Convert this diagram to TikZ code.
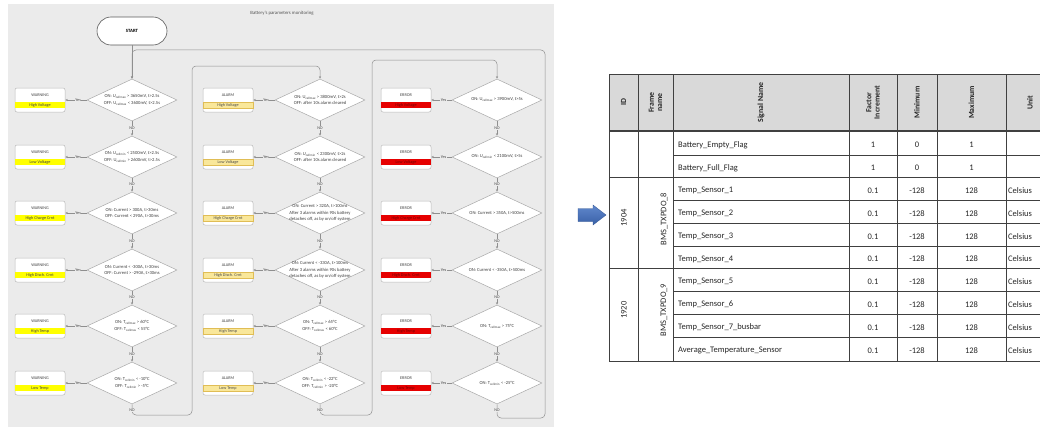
\documentclass[tikz,border=0pt]{standalone}
\usepackage{fontspec}
\setmainfont{Carlito}
\usetikzlibrary{shapes.geometric,calc,arrows.meta}

\definecolor{panel}{HTML}{EBEBEB}
\definecolor{edge}{HTML}{A8A8A8}
\definecolor{warnY}{HTML}{FFFF00}
\definecolor{alarmY}{HTML}{F9E79A}
\definecolor{alarmEdge}{HTML}{E0BD55}
\definecolor{errR}{HTML}{E60000}
\definecolor{hdr}{HTML}{D9D9D9}
\definecolor{rule}{HTML}{404040}
\definecolor{arrowblue}{HTML}{4472C4}

\tikzset{
  tinyfont/.style={font=\fontsize{4.2}{4.8}\selectfont},
  dia/.style={diamond, draw=edge, fill=white, line width=0.5pt, aspect=2.14,
    minimum width=90, minimum height=42, inner sep=0pt},
  diatxt/.style={align=center, inner sep=0pt, text=black!75,
    font=\fontsize{4.6}{6.2}\selectfont},
  startbox/.style={rectangle, rounded corners=14pt, draw=gray!70!black, fill=white,
    line width=0.6pt, minimum width=70, minimum height=28,
    font=\bfseries\fontsize{4.8}{5}\selectfont},
  lbox/.style={rectangle, rounded corners=2pt, draw=gray!55, fill=white,
    line width=0.5pt, minimum width=50, minimum height=24, inner sep=0pt},
  ltitle/.style={inner sep=0pt, tinyfont, text=black!75},
  warnband/.style={rectangle, fill=warnY, minimum width=50, minimum height=6,
    inner sep=0pt, tinyfont, text=black!75},
  alarmband/.style={rectangle, fill=alarmY, draw=alarmEdge, line width=0.4pt,
    minimum width=50, minimum height=6, inner sep=0pt, tinyfont, text=black!70},
  errband/.style={rectangle, fill=errR, minimum width=50, minimum height=6,
    inner sep=0pt, tinyfont, text=red!45!black},
  flow/.style={draw=edge!85!black, line width=0.5pt,
    -{Stealth[length=2.6pt,width=2.2pt]}},
  yeslab/.style={fill=panel, inner sep=0.6pt, tinyfont, text=black!70},
  nolab/.style={fill=panel, inner sep=0.6pt, tinyfont, text=black!70},
  hdrtxt/.style={rotate=90, font=\bfseries\fontsize{7.8}{8.4}\selectfont, text=black!85},
  celltxt/.style={font=\fontsize{8.5}{9}\selectfont, text=black!85, inner sep=0pt},
  sigtxt/.style={celltxt, anchor=west},
  grouptxt/.style={rotate=90, font=\fontsize{8.5}{9}\selectfont, text=black!85, inner sep=0pt},
  gridline/.style={draw=rule, line width=0.6pt},
}

% decision diamond with its condition text: name, x, y, text
\newcommand\decision[4]{%
  \node[dia] (#1) at (#2,#3) {};
  \node[diatxt] (#1x) at (#1.center) {#4};
}
% label box: name, x, y, level word, description, band style
\newcommand\lvlbox[6]{%
  \node[lbox] (#1) at (#2,#3) {};
  \node[ltitle] (#1t) at ($(#1.center)+(0,-4.5)$) {#4};
  \node[#6] (#1b) at ($(#1.center)+(0,5)$) {#5};
}

\begin{document}
\begin{tikzpicture}[x=1pt,y=-1pt]
\useasboundingbox (0,0) rectangle (1040,428);
\fill[white] (0,0) rectangle (1040,428);

% ---------- flowchart panel ----------
\fill[panel] (8,4) rectangle (554,427);
\node[font=\fontsize{4.8}{5}\selectfont, text=gray!65!black] (title) at (282,13)
  {Battery's parameters monitoring};
\node[startbox] (start) at (132,31) {START};

% column 1: warnings
\decision{d11}{132}{100}{ON: U\textsubscript{cellmax} > 3650mV, t>2.5s\\OFF: U\textsubscript{cellmax} < 3600mV, t>2.5s}
\decision{d12}{132}{157}{ON: U\textsubscript{cellmin} < 2500mV, t>2.5s\\OFF: U\textsubscript{cellmin} > 2600mV, t>2.5s}
\decision{d13}{132}{213}{ON: Current > 300A, t>30ms\\OFF: Current < 290A, t>30ms}
\decision{d14}{132}{270}{ON: Current < -300A, t>30ms\\OFF: Current > -290A, t>30ms}
\decision{d15}{132}{326}{ON: T\textsubscript{cellmax} > 60°C\\OFF: T\textsubscript{cellmax} < 55°C}
\decision{d16}{132}{383}{ON: T\textsubscript{cellmin} < -10°C\\OFF: T\textsubscript{cellmin} > -5°C}
\lvlbox{b11}{40}{100}{WARNING}{High Voltage}{warnband}
\lvlbox{b12}{40}{157}{WARNING}{Low Voltage}{warnband}
\lvlbox{b13}{40}{213}{WARNING}{High Charge Crnt}{warnband}
\lvlbox{b14}{40}{270}{WARNING}{High Disch. Crnt}{warnband}
\lvlbox{b15}{40}{326}{WARNING}{High Temp}{warnband}
\lvlbox{b16}{40}{383}{WARNING}{Low Temp}{warnband}

% column 2: alarms
\decision{d21}{320}{100}{ON: U\textsubscript{cellmax} > 3800mV, t>2s\\OFF: after 10s alarm cleared}
\decision{d22}{320}{157}{ON: U\textsubscript{cellmin} < 2300mV, t>2s\\OFF: after 10s alarm cleared}
\decision{d23}{320}{213}{ON: Current > 320A, t>100ms\\After 3 alarms within 90s battery\\detaches off, as by on/off system}
\decision{d24}{320}{270}{ON: Current < -330A, t>100ms\\After 3 alarms within 90s battery\\detaches off, as by on/off system}
\decision{d25}{320}{326}{ON: T\textsubscript{cellmax} > 65°C\\OFF: T\textsubscript{cellmax} < 60°C}
\decision{d26}{320}{383}{ON: T\textsubscript{cellmin} < -22°C\\OFF: T\textsubscript{cellmin} > -20°C}
\lvlbox{b21}{228}{100}{ALARM}{High Voltage}{alarmband}
\lvlbox{b22}{228}{157}{ALARM}{Low Voltage}{alarmband}
\lvlbox{b23}{228}{213}{ALARM}{High Charge Crnt}{alarmband}
\lvlbox{b24}{228}{270}{ALARM}{High Disch. Crnt}{alarmband}
\lvlbox{b25}{228}{326}{ALARM}{High Temp}{alarmband}
\lvlbox{b26}{228}{383}{ALARM}{Low Temp}{alarmband}

% column 3: errors
\decision{d31}{497}{100}{ON: U\textsubscript{cellmax} > 3900mV, t>5s}
\decision{d32}{497}{157}{ON: U\textsubscript{cellmin} < 2100mV, t>5s}
\decision{d33}{497}{213}{ON: Current > 350A, t>500ms}
\decision{d34}{497}{270}{ON: Current < -350A, t>500ms}
\decision{d35}{497}{326}{ON: T\textsubscript{cellmax} > 75°C}
\decision{d36}{497}{383}{ON: T\textsubscript{cellmin} < -25°C}
\lvlbox{b31}{406}{100}{ERROR}{High Voltage}{errband}
\lvlbox{b32}{406}{157}{ERROR}{Low Voltage}{errband}
\lvlbox{b33}{406}{213}{ERROR}{High Charge Crnt}{errband}
\lvlbox{b34}{406}{270}{ERROR}{High Disch. Crnt}{errband}
\lvlbox{b35}{406}{326}{ERROR}{High Temp}{errband}
\lvlbox{b36}{406}{383}{ERROR}{Low Temp}{errband}

% yes branches and no chains
\foreach \c in {1,2,3}{
  \foreach \r in {1,...,6}{
    \draw[flow] (d\c\r.west) -- (b\c\r.east) node[yeslab, pos=0.4] (y\c\r) {Yes};
  }
  \foreach \r/\n in {1/2,2/3,3/4,4/5,5/6}{
    \draw[flow] (d\c\r.south) -- (d\c\n.north) node[nolab, pos=0.45] (n\c\r) {NO};
  }
}

% loop-back routing between columns
\coordinate (k1a) at (192,415);
\coordinate (k1b) at (192,66);
\coordinate (k2a) at (372,415);
\coordinate (k2b) at (372,60);
\coordinate (k3a) at (545,418);
\coordinate (k3b) at (545,50);
\draw[flow] (start) -- (d11);
\draw[flow, rounded corners=4pt] (d16.south) |- (k1a) -- (k1b) -| (d21.north);
\draw[flow, rounded corners=4pt] (d26.south) |- (k2a) -- (k2b) -| (d31.north);
\draw[flow, rounded corners=4pt] (d36.south) |- (k3a) -- (k3b) -| (d11.north);
\node[nolab] (n16) at ($(d16.south)+(0,6)$) {NO};
\node[nolab] (n26) at ($(d26.south)+(0,6)$) {NO};
\node[nolab] (n36) at ($(d36.south)+(0,6)$) {NO};

% ---------- block arrow ----------
\shade[top color=arrowblue!85!white, bottom color=arrowblue!85!black,
  draw=arrowblue!75!black, line width=0.3pt]
  (578,208.5) -- (593,208.5) -- (593,205) -- (606,215) -- (593,225)
  -- (593,221.5) -- (578,221.5) -- cycle;

% ---------- signal table ----------
\fill[hdr] (609,74) rectangle (1040,131);
\node[hdrtxt] (hID) at (623.5,102.5) {ID};
\node[hdrtxt, align=center] (hFrame) at (655.5,102.5) {Frame\\name};
\node[hdrtxt] (hSig) at (761,102.5) {Signal Name};
\node[hdrtxt, align=center] (hFac) at (873,102.5) {Factor\\Increment};
\node[hdrtxt] (hMin) at (917,102.5) {Minimum};
\node[hdrtxt] (hMax) at (971.5,102.5) {Maximum};
\node[hdrtxt] (hUnit) at (1030,102.5) {Unit};

% outer and column rules
\foreach \x in {609,638,673,849,897,937,1006}{
  \draw[gridline] (\x,74) -- (\x,361);
}
\draw[gridline] (609,74) -- (1040,74);
\draw[draw=rule, line width=1.3pt] (609,131) -- (1040,131);
\foreach \y in {177,268,361}{ \draw[gridline] (609,\y) -- (1040,\y); }
\foreach \y in {155,200,223,246,291,314,337}{ \draw[gridline] (673,\y) -- (1040,\y); }

% table rows
\foreach \k/\y/\s/\f/\mn/\mx/\u in {
  0/145/Battery\_Empty\_Flag/1/0/1/{},
  1/168/Battery\_Full\_Flag/1/0/1/{},
  2/190.5/Temp\_Sensor\_1/0.1/-128/128/Celsius,
  3/213.5/Temp\_Sensor\_2/0.1/-128/128/Celsius,
  4/236.5/Temp\_Sensor\_3/0.1/-128/128/Celsius,
  5/259/Temp\_Sensor\_4/0.1/-128/128/Celsius,
  6/281.5/Temp\_Sensor\_5/0.1/-128/128/Celsius,
  7/304.5/Temp\_Sensor\_6/0.1/-128/128/Celsius,
  8/327.5/Temp\_Sensor\_7\_busbar/0.1/-128/128/Celsius,
  9/350.5/Average\_Temperature\_Sensor/0.1/-128/128/Celsius}{
  \node[sigtxt] (sig\k) at (678,\y) {\s};
  \node[celltxt] (fac\k) at (873,\y) {\f};
  \node[celltxt] (min\k) at (917,\y) {\mn};
  \node[celltxt] (max\k) at (971.5,\y) {\mx};
  \node[sigtxt] (unit\k) at (1008,\y) {\u};
}

% merged group cells
\node[grouptxt] (id1) at (624,218) {1904};
\node[grouptxt] (fr1) at (664,219) {BMS\_TXPDO\_8};
\node[grouptxt] (id2) at (624,310) {1920};
\node[grouptxt] (fr2) at (664,310) {BMS\_TXPDO\_9};
\end{tikzpicture}
\end{document}
